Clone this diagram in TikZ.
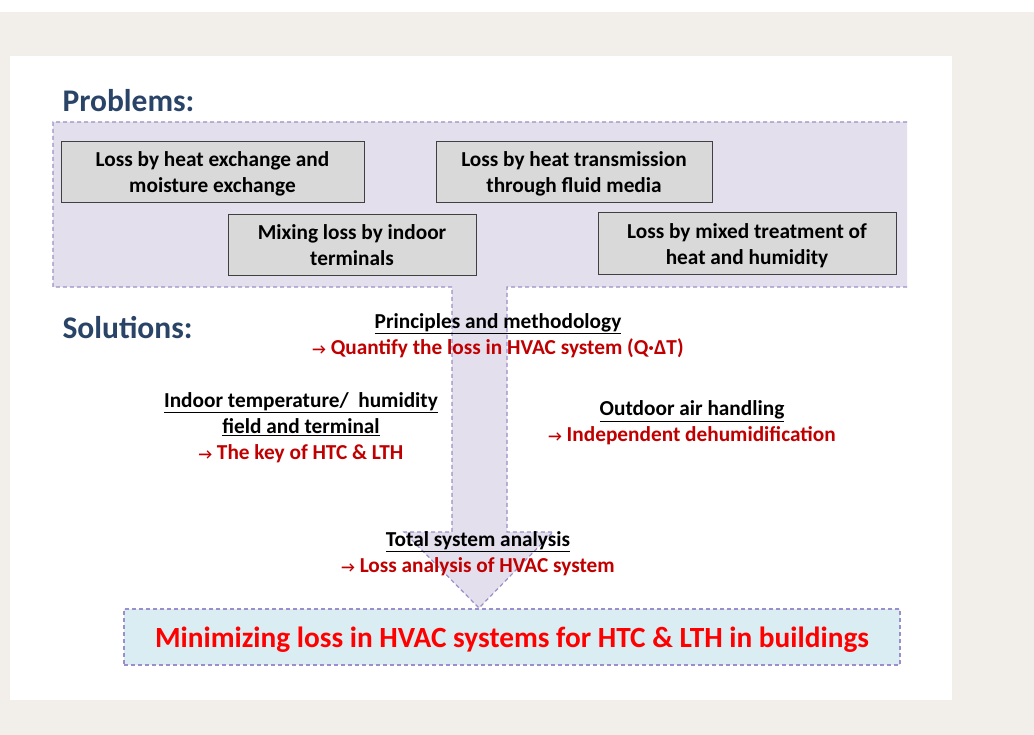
\documentclass[tikz,border=0pt]{standalone}
\usepackage{fontspec}
\setmainfont{Carlito}

\definecolor{pagebg}{HTML}{F2EFEA}
\definecolor{lilac}{HTML}{E4DFEC}
\definecolor{lilacline}{HTML}{9C8EC8}
\definecolor{boxgray}{HTML}{D9D9D9}
\definecolor{boxline}{HTML}{404040}
\definecolor{titleblue}{HTML}{2A4468}
\definecolor{darkred}{HTML}{C00000}
\definecolor{goalblue}{HTML}{DAEDF3}

\tikzset{
  lossbox/.style={draw=boxline, fill=boxgray, line width=1pt, align=center, inner sep=0pt,
    text depth=0pt, font=\bfseries\fontsize{21.3}{26}\selectfont},
  headline/.style={anchor=west, text=titleblue, font=\bfseries\fontsize{31.5}{34}\selectfont},
  solution/.style={align=center, font=\bfseries\fontsize{21.3}{26}\selectfont},
  lilacdash/.style={draw=lilacline, line width=1.2pt, dash pattern=on 4pt off 3pt}
}

\newcommand{\redline}[1]{\textcolor{darkred}{{\fontsize{15}{26}\selectfont\textrightarrow}\ #1}}

\begin{document}
\begin{tikzpicture}[x=1pt,y=-1pt]
    \useasboundingbox (0,0) rectangle (1034,735);
    \fill[white] (0,0) rectangle (1034,735);
    \fill[pagebg] (0,12) rectangle (1034,735);
    \fill[white] (10,56) rectangle (952,700);

    % big arrow behind the problems
    \fill[lilac] (53,122) -- (907,122) -- (907,287) -- (507,287) -- (507,532) -- (553,532)
        -- (479,608) -- (404,532) -- (452,532) -- (452,287) -- (53,287) -- cycle;
    \draw[lilacdash] (907,122) -- (53,122) -- (53,287) -- (452,287) -- (452,532) -- (404,532)
        -- (479,608) -- (553,532) -- (507,532) -- (507,287) -- (907,287);

    \node[headline] (problems) at (59,101) {Problems:};
    \node[headline] (solutions) at (59,328) {Solutions:};

    \node[lossbox, minimum width=303pt, minimum height=61pt] (exchange) at (212.5,172.5)
        {Loss by heat exchange and\\moisture exchange};
    \node[lossbox, minimum width=276pt, minimum height=61pt] (transmission) at (574,172.5)
        {Loss by heat transmission\\through fluid media};
    \node[lossbox, minimum width=248pt, minimum height=61pt] (mixing) at (352,245.5)
        {Mixing loss by indoor\\terminals};
    \node[lossbox, minimum width=298pt, minimum height=62pt] (mixed) at (747,244)
        {Loss by mixed treatment of\\heat and humidity};

    \node[solution] (principles) at (498,335.5)
        {\underline{Principles and methodology}\\\redline{Quantify the loss in HVAC system (Q·ΔT)}};
    \node[solution] (indoor) at (301,428)
        {\underline{Indoor temperature/\ \ humidity}\\\underline{field and terminal}\\\redline{The key of HTC \& LTH}};
    \node[solution] (outdoor) at (692,423)
        {\underline{Outdoor air handling}\\\redline{Independent dehumidification}};
    \node[solution] (total) at (478,553.5)
        {\underline{Total system analysis}\\\redline{Loss analysis of HVAC system}};

    \node[lilacdash, fill=goalblue, minimum width=776pt, minimum height=56pt, inner sep=0pt,
        text depth=0pt, text=red, font=\bfseries\fontsize{29.3}{32}\selectfont] (goal) at (512,637)
        {Minimizing loss in HVAC systems for HTC \& LTH in buildings};
\end{tikzpicture}
\end{document}
